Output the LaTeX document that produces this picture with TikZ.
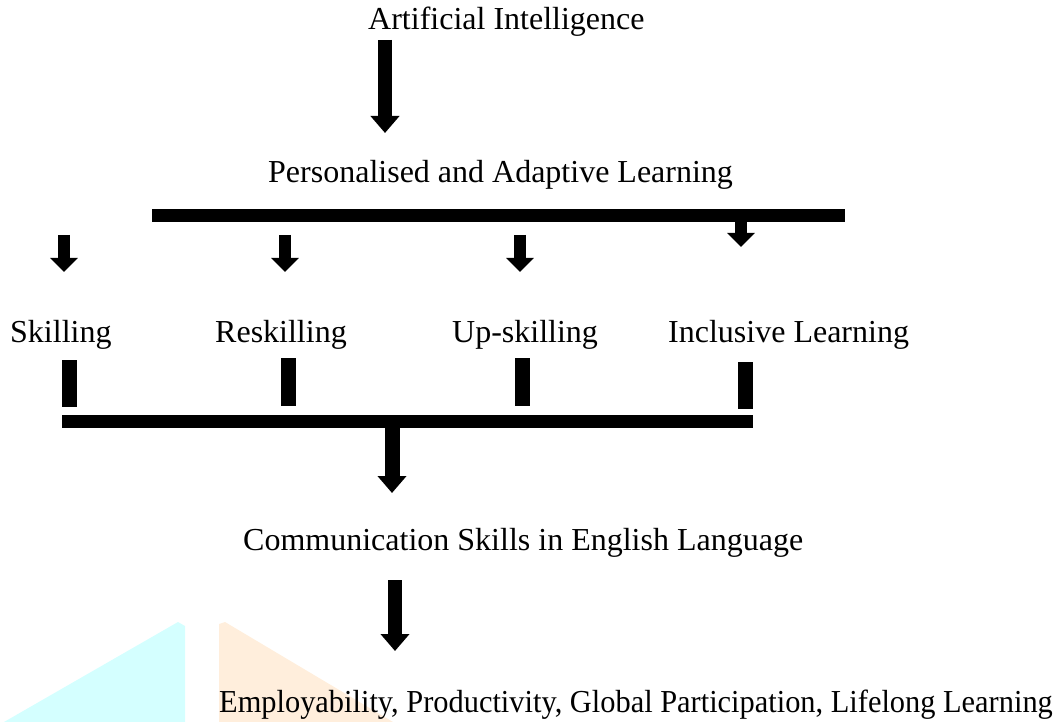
\documentclass[tikz,border=0pt]{standalone}
\usepackage{fontspec}
\setmainfont{Liberation Serif}
\usepackage{xcolor}
\usetikzlibrary{arrows.meta}
\definecolor{wmcyan}{RGB}{212,255,255}
\definecolor{wmorange}{RGB}{255,238,220}
\tikzstyle{txt} = [anchor=base west, inner sep=0pt, font=\fontsize{32}{38}\selectfont]
\tikzstyle{bigarrow} = [line width=14pt, -{Triangle[length=17pt,width=28pt]}]
\tikzstyle{smallarrow} = [line width=12pt, -{Triangle[length=14pt,width=27pt]}]
\tikzstyle{hbar} = [line width=13pt]
\tikzstyle{vstub} = [line width=15pt]

\begin{document}
\begin{tikzpicture}[x=1pt,y=-1pt]
\useasboundingbox (0,0) rectangle (1061,722);
%watermark
\fill[wmcyan] (4,722) -- (178,622) -- (185,626) -- (185,722) -- cycle;
\fill[wmorange] (219,722) -- (219,624) -- (225,622) -- (393,722) -- cycle;

%texts
\node[txt] (ai) at (368,30) {Artificial Intelligence};
\node[txt] (pal) at (268,183) {Personalised and Adaptive Learning};
\node[txt] (skill) at (10,342) {Skilling};
\node[txt] (reskill) at (215,342) {Reskilling};
\node[txt] (upskill) at (452,342) {Up-skilling};
\node[txt] (incl) at (668,342) {Inclusive Learning};
\node[txt] (comm) at (243,550) {Communication Skills in English Language};
\node[txt] (emp) at (219,712) {\scalebox{0.95}[1]{Employability, Productivity, Global Participation, Lifelong Learning}};

%points
\coordinate (a1s) at (385,40);
\coordinate (a1e) at (385,133);
\coordinate (tbl) at (152,216);
\coordinate (tbr) at (845,216);
\coordinate (bbl) at (62,421.5);
\coordinate (bbr) at (753,421.5);
\coordinate (a3s) at (392,421.5);
\coordinate (a3e) at (392,493);
\coordinate (a4s) at (395,580);
\coordinate (a4e) at (395,651);
\coordinate (incls) at (741,216);
\coordinate (incle) at (741,247);

%arrows
\draw[bigarrow] (a1s) -- (a1e);
\draw[hbar] (tbl) -- (tbr);
\foreach \x/\n in {64/skill, 285/reskill, 520/upskill}
  \draw[smallarrow] (\x,235) coordinate (\n s) -- (\x,272) coordinate (\n e);
\draw[smallarrow] (incls) -- (incle);
\foreach \x/\t/\b in {69.5/360/407, 288.5/358/406, 522/358/406, 745.5/362/409}
  \draw[vstub] (\x,\t) -- (\x,\b);
\draw[hbar] (bbl) -- (bbr);
\draw[bigarrow, line width=15pt] (a3s) -- (a3e);
\draw[bigarrow] (a4s) -- (a4e);
\end{tikzpicture}
\end{document}
